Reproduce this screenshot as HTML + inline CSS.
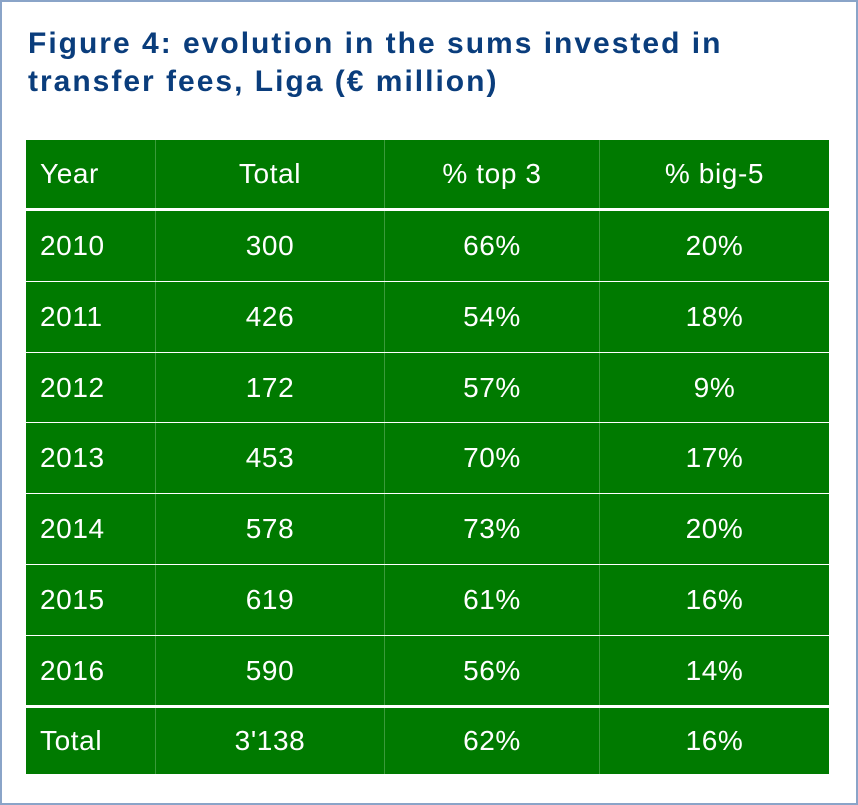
<!DOCTYPE html>
<html><head><meta charset="utf-8"><style>
body{margin:0;width:858px;height:805px;background:#fff;overflow:hidden;font-family:"Liberation Sans",sans-serif}
.frame{position:absolute;left:0;top:0;width:854px;height:801px;border:2px solid #8aa4c8}
.title{position:absolute;left:28px;top:25px;font-size:30px;font-weight:bold;color:#0a3d7c;line-height:38px;letter-spacing:2px;white-space:nowrap}
.tbl{position:absolute;left:26px;top:140px;width:803px}
.row{position:absolute;left:0;width:803px;background:#007a00;color:#fff;font-size:28px;letter-spacing:0.6px}
.row div{position:absolute;top:0;height:100%;display:flex;align-items:center;border-right:1px solid #3a9a3a;box-sizing:border-box}
.c0{left:0;width:130px;padding-left:14px}
.c1{left:130px;width:229px;justify-content:center}
.c2{left:359px;width:215px;justify-content:center}
.c3{left:574px;width:229px;justify-content:center;border-right:none!important}
</style></head><body>
<div class="frame"></div>
<div class="title">Figure 4: evolution in the sums invested in<br>transfer fees, Liga (€ million)</div>
<div class="tbl">
<div class="row" style="top:0;height:68px"><div class="c0">Year</div><div class="c1">Total</div><div class="c2">% top 3</div><div class="c3">% big-5</div></div>
<div class="row" style="top:71px;height:70px"><div class="c0">2010</div><div class="c1">300</div><div class="c2">66%</div><div class="c3">20%</div></div>
<div class="row" style="top:142px;height:70px"><div class="c0">2011</div><div class="c1">426</div><div class="c2">54%</div><div class="c3">18%</div></div>
<div class="row" style="top:213px;height:69px"><div class="c0">2012</div><div class="c1">172</div><div class="c2">57%</div><div class="c3">9%</div></div>
<div class="row" style="top:283px;height:70px"><div class="c0">2013</div><div class="c1">453</div><div class="c2">70%</div><div class="c3">17%</div></div>
<div class="row" style="top:354px;height:70px"><div class="c0">2014</div><div class="c1">578</div><div class="c2">73%</div><div class="c3">20%</div></div>
<div class="row" style="top:425px;height:70px"><div class="c0">2015</div><div class="c1">619</div><div class="c2">61%</div><div class="c3">16%</div></div>
<div class="row" style="top:496px;height:69px"><div class="c0">2016</div><div class="c1">590</div><div class="c2">56%</div><div class="c3">14%</div></div>
<div class="row" style="top:568px;height:66px"><div class="c0">Total</div><div class="c1">3'138</div><div class="c2">62%</div><div class="c3">16%</div></div>
</div>
</body></html>
